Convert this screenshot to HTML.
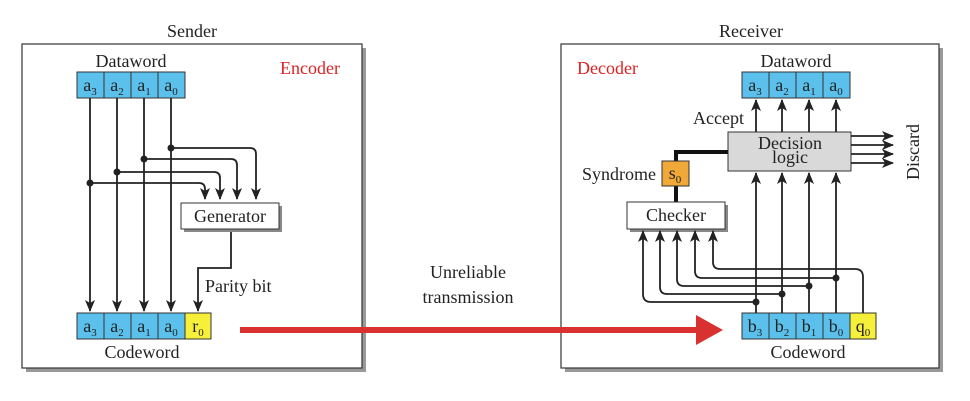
<!DOCTYPE html>
<html><head><style>
body{margin:0;background:#fff}
svg{display:block}
text{font-family:"Liberation Serif",serif;font-size:18px;fill:#222}
.sub{font-size:11px}
</style></head><body>
<svg width="970" height="401" viewBox="0 0 970 401" xmlns="http://www.w3.org/2000/svg">
<defs>
<marker id="a" markerWidth="12" markerHeight="12" refX="11" refY="6" orient="auto" markerUnits="userSpaceOnUse">
<path d="M0,1 L12,6 L0,11 L3,6 Z" fill="#222"/></marker>
</defs>
<rect x="26" y="48" width="340" height="324" fill="#999"/>
<rect x="22" y="44" width="340" height="324" fill="#fff" stroke="#333" stroke-width="1.2"/>
<rect x="565" y="48" width="378" height="324" fill="#999"/>
<rect x="561" y="44" width="378" height="324" fill="#fff" stroke="#333" stroke-width="1.2"/>
<text x="192" y="37" text-anchor="middle">Sender</text>
<text x="751" y="37" text-anchor="middle">Receiver</text>
<text x="280" y="74" style="fill:#d22">Encoder</text>
<text x="577" y="74" style="fill:#d22">Decoder</text>

<text x="131" y="67" text-anchor="middle">Dataword</text>
<g stroke="#333" stroke-width="1" fill="#5bc0eb">
<rect x="77" y="72" width="27" height="26"/><rect x="104" y="72" width="27" height="26"/><rect x="131" y="72" width="27" height="26"/><rect x="158" y="72" width="27" height="26"/>
<rect x="77" y="313" width="27" height="26"/><rect x="104" y="313" width="27" height="26"/><rect x="131" y="313" width="27" height="26"/><rect x="158" y="313" width="27" height="26"/>
<rect x="185" y="313" width="26" height="26" fill="#f7f03a"/>
</g>
<g text-anchor="middle">
<text x="90" y="91">a<tspan class="sub" dy="4">3</tspan></text>
<text x="117" y="91">a<tspan class="sub" dy="4">2</tspan></text>
<text x="144" y="91">a<tspan class="sub" dy="4">1</tspan></text>
<text x="171" y="91">a<tspan class="sub" dy="4">0</tspan></text>
<text x="90" y="332">a<tspan class="sub" dy="4">3</tspan></text>
<text x="117" y="332">a<tspan class="sub" dy="4">2</tspan></text>
<text x="144" y="332">a<tspan class="sub" dy="4">1</tspan></text>
<text x="171" y="332">a<tspan class="sub" dy="4">0</tspan></text>
<text x="198" y="332">r<tspan class="sub" dy="4">0</tspan></text>
</g>
<text x="142" y="358" text-anchor="middle">Codeword</text>
<g stroke="#222" stroke-width="1.8" fill="none" marker-end="url(#a)">
<path d="M90,98 V311"/><path d="M117,98 V311"/><path d="M144,98 V311"/><path d="M171,98 V311"/>
<path d="M171,148 H250 Q256,148 256,154 V199"/>
<path d="M144,159 H231 Q237,159 237,165 V199"/>
<path d="M117,172 H214 Q220,172 220,178 V199"/>
<path d="M90,183 H199 Q205,183 205,189 V199"/>
<path d="M231,229 V268 H198 V311"/>
</g>
<g fill="#222"><circle cx="171" cy="148" r="3.5"/><circle cx="144" cy="159" r="3.5"/><circle cx="117" cy="172" r="3.5"/><circle cx="90" cy="183" r="3.5"/></g>
<rect x="184" y="206" width="98" height="26" fill="#888"/>
<rect x="181" y="203" width="98" height="26" fill="#fff" stroke="#333"/>
<text x="230" y="222" text-anchor="middle">Generator</text>
<text x="205" y="292">Parity bit</text>

<text x="468" y="278" text-anchor="middle">Unreliable</text>
<text x="468" y="303" text-anchor="middle">transmission</text>
<rect x="240" y="327" width="462" height="6" fill="#d93030"/>
<path d="M696,315 L723,330 L696,345 Z" fill="#d93030"/>

<text x="796" y="67" text-anchor="middle">Dataword</text>
<g stroke="#333" stroke-width="1" fill="#5bc0eb">
<rect x="742" y="72" width="27" height="26"/><rect x="769" y="72" width="27" height="26"/><rect x="796" y="72" width="27" height="26"/><rect x="823" y="72" width="27" height="26"/>
<rect x="742" y="313" width="27" height="26"/><rect x="769" y="313" width="27" height="26"/><rect x="796" y="313" width="27" height="26"/><rect x="823" y="313" width="27" height="26"/>
<rect x="850" y="313" width="26" height="26" fill="#f7f03a"/>
</g>
<g text-anchor="middle">
<text x="755" y="91">a<tspan class="sub" dy="4">3</tspan></text>
<text x="782" y="91">a<tspan class="sub" dy="4">2</tspan></text>
<text x="809" y="91">a<tspan class="sub" dy="4">1</tspan></text>
<text x="836" y="91">a<tspan class="sub" dy="4">0</tspan></text>
<text x="755" y="332">b<tspan class="sub" dy="4">3</tspan></text>
<text x="782" y="332">b<tspan class="sub" dy="4">2</tspan></text>
<text x="809" y="332">b<tspan class="sub" dy="4">1</tspan></text>
<text x="836" y="332">b<tspan class="sub" dy="4">0</tspan></text>
<text x="863" y="332">q<tspan class="sub" dy="4">0</tspan></text>
</g>
<text x="808" y="358" text-anchor="middle">Codeword</text>
<text x="744" y="124" text-anchor="end">Accept</text>
<rect x="728" y="132" width="123" height="39" fill="#d9d9d9" stroke="#333"/>
<text x="790" y="149" text-anchor="middle">Decision</text>
<text x="790" y="163" text-anchor="middle">logic</text>
<path d="M728,152 H676 V161 M676,186 V202" stroke="#111" stroke-width="4" fill="none"/>
<rect x="662" y="161" width="27" height="25" fill="#f0a838" stroke="#333"/>
<text x="675" y="179" text-anchor="middle">s<tspan class="sub" dy="4">0</tspan></text>
<text x="656" y="180" text-anchor="end">Syndrome</text>
<rect x="630" y="205" width="98" height="27" fill="#888"/>
<rect x="627" y="202" width="98" height="27" fill="#fff" stroke="#333"/>
<text x="676" y="221" text-anchor="middle">Checker</text>
<text transform="translate(919,152) rotate(-90)" text-anchor="middle">Discard</text>
<g stroke="#222" stroke-width="1.8" fill="none" marker-end="url(#a)">
<path d="M756,132 V100"/><path d="M782,132 V100"/><path d="M809,132 V100"/><path d="M836,132 V100"/>
<path d="M851,136 H893"/><path d="M851,145 H893"/><path d="M851,154 H893"/><path d="M851,163 H893"/>
<path d="M756,313 V173"/><path d="M782,313 V173"/><path d="M809,313 V173"/><path d="M836,313 V173"/>
<path d="M756,302 H651 Q643,302 643,294 V231"/>
<path d="M782,294 H667 Q660,294 660,287 V231"/>
<path d="M809,286 H684 Q677,286 677,279 V231"/>
<path d="M836,278 H702 Q695,278 695,271 V231"/>
<path d="M863,313 V277 Q863,269 855,269 H720 Q713,269 713,262 V231"/>
</g>
<g fill="#222"><circle cx="756" cy="302" r="3.5"/><circle cx="782" cy="294" r="3.5"/><circle cx="809" cy="286" r="3.5"/><circle cx="836" cy="278" r="3.5"/></g>
</svg>
</body></html>
